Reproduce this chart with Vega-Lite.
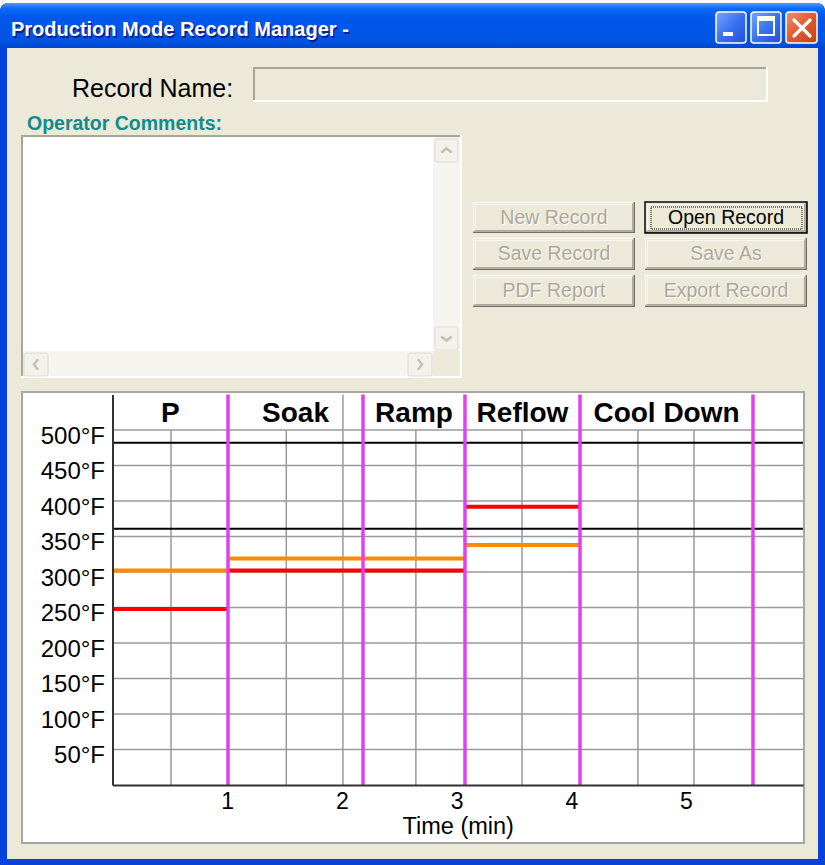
{
"$schema": "https://vega.github.io/schema/vega-lite/v6.json",
"width": 825, "height": 865,
"autosize": {"type": "fit", "contains": "padding"},
"padding": 0,
"background": "#FFFFFF",
"config": {"view": {"stroke": null}, "text": {"font": "Liberation Sans"}},
"datasets": {
  "tbuttons": [
    {"button": "minimize", "x": 716, "x2": 746, "y": 12, "y2": 43},
    {"button": "maximize", "x": 751, "x2": 781, "y": 12, "y2": 43},
    {"button": "close", "x": 786, "x2": 817, "y": 12, "y2": 43}
  ],
  "sunken": [
    {"box": "Record Name", "face": "disabled", "x": 253, "x2": 768, "y": 67, "y2": 102},
    {"box": "Operator Comments", "face": "editable", "x": 21, "x2": 462, "y": 135, "y2": 378}
  ],
  "scrollbtn": [
    {"dir": "up", "x": 435, "x2": 458, "y": 139, "y2": 162},
    {"dir": "down", "x": 435, "x2": 458, "y": 327, "y2": 350},
    {"dir": "left", "x": 24, "x2": 48, "y": 353, "y2": 376},
    {"dir": "right", "x": 408, "x2": 432, "y": 353, "y2": 376}
  ],
  "buttons": [
    {"label": "New Record", "enabled": false, "x": 473, "x2": 635, "y": 202, "y2": 233},
    {"label": "Open Record", "enabled": true, "x": 645, "x2": 807, "y": 202, "y2": 233},
    {"label": "Save Record", "enabled": false, "x": 473, "x2": 635, "y": 238, "y2": 270},
    {"label": "Save As", "enabled": false, "x": 645, "x2": 807, "y": 238, "y2": 270},
    {"label": "PDF Report", "enabled": false, "x": 473, "x2": 635, "y": 275, "y2": 307},
    {"label": "Export Record", "enabled": false, "x": 645, "x2": 807, "y": 275, "y2": 307}
  ],
  "zones": [
    {"zone": "P", "t": 0, "t2": 1.007, "bottom": 0, "top": 550},
    {"zone": "Soak", "t": 1.007, "t2": 2.184, "bottom": 0, "top": 550},
    {"zone": "Ramp", "t": 2.184, "t2": 3.073, "bottom": 0, "top": 550},
    {"zone": "Reflow", "t": 3.073, "t2": 4.076, "bottom": 0, "top": 550},
    {"zone": "Cool Down", "t": 4.076, "t2": 5.584, "bottom": 0, "top": 550}
  ],
  "setpoints": [
    {"zone": "P", "series": "Top heater", "t": 0, "t2": 1.007, "temp": 248},
    {"zone": "P", "series": "Bottom heater", "t": 0, "t2": 1.007, "temp": 302},
    {"zone": "Soak", "series": "Top heater", "t": 1.007, "t2": 2.184, "temp": 302},
    {"zone": "Soak", "series": "Bottom heater", "t": 1.007, "t2": 2.184, "temp": 319},
    {"zone": "Ramp", "series": "Top heater", "t": 2.184, "t2": 3.073, "temp": 302},
    {"zone": "Ramp", "series": "Bottom heater", "t": 2.184, "t2": 3.073, "temp": 319},
    {"zone": "Reflow", "series": "Top heater", "t": 3.073, "t2": 4.076, "temp": 392},
    {"zone": "Reflow", "series": "Bottom heater", "t": 3.073, "t2": 4.076, "temp": 338}
  ]
},
"resolve": {"scale": {"x": "independent", "y": "independent", "color": "independent", "shape": "independent"}},
"layer": [
  {"data": {"values": [{"part": "frame", "x": 0, "x2": 825, "y": 3, "y2": 865}]},
   "mark": {"type": "rect", "fill": "#0841DC", "cornerRadiusTopLeft": 8, "cornerRadiusTopRight": 8},
   "encoding": {"x": {"field": "x", "type": "quantitative", "scale": {"domain": [0, 825], "range": [0, 825], "nice": false, "zero": false}, "axis": null}, "x2": {"field": "x2"},
                "y": {"field": "y", "type": "quantitative", "scale": {"domain": [0, 865], "range": [0, 865], "nice": false, "zero": false}, "axis": null}, "y2": {"field": "y2"}}},
  {"data": {"values": [{"part": "title bar", "x": 0, "x2": 825, "y": 3, "y2": 48}]},
   "mark": {"type": "rect", "cornerRadiusTopLeft": 8, "cornerRadiusTopRight": 8,
            "fill": {"gradient": "linear", "x1": 0, "y1": 0, "x2": 0, "y2": 1, "stops": [{"offset": 0, "color": "#4A9BFF"}, {"offset": 0.12, "color": "#0C6BF6"}, {"offset": 0.3, "color": "#0058EC"}, {"offset": 0.85, "color": "#0054E3"}, {"offset": 1, "color": "#0046CF"}]}},
   "encoding": {"x": {"field": "x", "type": "quantitative", "scale": {"domain": [0, 825], "range": [0, 825], "nice": false, "zero": false}, "axis": null}, "x2": {"field": "x2"},
                "y": {"field": "y", "type": "quantitative", "scale": {"domain": [0, 865], "range": [0, 865], "nice": false, "zero": false}, "axis": null}, "y2": {"field": "y2"}}},
  {"data": {"values": [{"part": "client", "x": 7, "x2": 818, "y": 48, "y2": 859}]},
   "mark": {"type": "rect", "fill": "#ECE9D8"},
   "encoding": {"x": {"field": "x", "type": "quantitative", "scale": {"domain": [0, 825], "range": [0, 825], "nice": false, "zero": false}, "axis": null}, "x2": {"field": "x2"},
                "y": {"field": "y", "type": "quantitative", "scale": {"domain": [0, 865], "range": [0, 865], "nice": false, "zero": false}, "axis": null}, "y2": {"field": "y2"}}},
  {"data": {"name": "tbuttons"}, "transform": [{"filter": "datum.button != 'close'"}],
   "mark": {"type": "rect", "cornerRadius": 3, "stroke": "#FFFFFF", "strokeWidth": 1.5,
            "fill": {"gradient": "linear", "x1": 0, "y1": 0, "x2": 1, "y2": 1, "stops": [{"offset": 0, "color": "#79A6FF"}, {"offset": 0.5, "color": "#3A72F0"}, {"offset": 1, "color": "#1F4FD8"}]}},
   "encoding": {"x": {"field": "x", "type": "quantitative", "scale": {"domain": [0, 825], "range": [0, 825], "nice": false, "zero": false}, "axis": null}, "x2": {"field": "x2"},
                "y": {"field": "y", "type": "quantitative", "scale": {"domain": [0, 865], "range": [0, 865], "nice": false, "zero": false}, "axis": null}, "y2": {"field": "y2"}}},
  {"data": {"name": "tbuttons"}, "transform": [{"filter": "datum.button == 'close'"}],
   "mark": {"type": "rect", "cornerRadius": 3, "stroke": "#FFFFFF", "strokeWidth": 1.5,
            "fill": {"gradient": "linear", "x1": 0, "y1": 0, "x2": 1, "y2": 1, "stops": [{"offset": 0, "color": "#F09070"}, {"offset": 0.5, "color": "#E05A30"}, {"offset": 1, "color": "#C4400F"}]}},
   "encoding": {"x": {"field": "x", "type": "quantitative", "scale": {"domain": [0, 825], "range": [0, 825], "nice": false, "zero": false}, "axis": null}, "x2": {"field": "x2"},
                "y": {"field": "y", "type": "quantitative", "scale": {"domain": [0, 865], "range": [0, 865], "nice": false, "zero": false}, "axis": null}, "y2": {"field": "y2"}}},
  {"data": {"values": [{"glyph": "minimize", "x": 723, "x2": 733, "y": 32, "y2": 36}, {"glyph": "maximize top", "x": 758, "x2": 774, "y": 17, "y2": 21}]},
   "mark": {"type": "rect", "fill": "#FFFFFF"},
   "encoding": {"x": {"field": "x", "type": "quantitative", "scale": {"domain": [0, 825], "range": [0, 825], "nice": false, "zero": false}, "axis": null}, "x2": {"field": "x2"},
                "y": {"field": "y", "type": "quantitative", "scale": {"domain": [0, 865], "range": [0, 865], "nice": false, "zero": false}, "axis": null}, "y2": {"field": "y2"}}},
  {"data": {"values": [{"glyph": "maximize", "x": 758, "x2": 774, "y": 17, "y2": 35}]},
   "mark": {"type": "rect", "fillOpacity": 0, "stroke": "#FFFFFF", "strokeWidth": 2},
   "encoding": {"x": {"field": "x", "type": "quantitative", "scale": {"domain": [0, 825], "range": [0, 825], "nice": false, "zero": false}, "axis": null}, "x2": {"field": "x2"},
                "y": {"field": "y", "type": "quantitative", "scale": {"domain": [0, 865], "range": [0, 865], "nice": false, "zero": false}, "axis": null}, "y2": {"field": "y2"}}},
  {"data": {"values": [{"glyph": "close a", "x": 794, "x2": 810, "y": 20, "y2": 36}, {"glyph": "close b", "x": 794, "x2": 810, "y": 36, "y2": 20}]},
   "mark": {"type": "rule", "color": "#FFFFFF", "strokeWidth": 3.2, "strokeCap": "round"},
   "encoding": {"x": {"field": "x", "type": "quantitative", "scale": {"domain": [0, 825], "range": [0, 825], "nice": false, "zero": false}, "axis": null}, "x2": {"field": "x2"},
                "y": {"field": "y", "type": "quantitative", "scale": {"domain": [0, 865], "range": [0, 865], "nice": false, "zero": false}, "axis": null}, "y2": {"field": "y2"}}},
  {"data": {"values": [{"text": "Production Mode Record Manager -", "x": 11, "y": 30}]},
   "mark": {"type": "text", "align": "left", "baseline": "middle", "fontSize": 20, "fontWeight": "bold", "fill": "#0A1F8F", "dx": 1.5, "dy": 1.5},
   "encoding": {"x": {"field": "x", "type": "quantitative", "scale": {"domain": [0, 825], "range": [0, 825], "nice": false, "zero": false}, "axis": null},
                "y": {"field": "y", "type": "quantitative", "scale": {"domain": [0, 865], "range": [0, 865], "nice": false, "zero": false}, "axis": null}, "text": {"field": "text"}}},
  {"data": {"values": [{"text": "Production Mode Record Manager -", "x": 11, "y": 30}]},
   "mark": {"type": "text", "align": "left", "baseline": "middle", "fontSize": 20, "fontWeight": "bold", "fill": "#FFFFFF"},
   "encoding": {"x": {"field": "x", "type": "quantitative", "scale": {"domain": [0, 825], "range": [0, 825], "nice": false, "zero": false}, "axis": null},
                "y": {"field": "y", "type": "quantitative", "scale": {"domain": [0, 865], "range": [0, 865], "nice": false, "zero": false}, "axis": null}, "text": {"field": "text"}}},
  {"data": {"values": [{"text": "Record Name:", "x": 72, "y": 89}]},
   "mark": {"type": "text", "align": "left", "baseline": "middle", "fontSize": 25, "fill": "#000000"},
   "encoding": {"x": {"field": "x", "type": "quantitative", "scale": {"domain": [0, 825], "range": [0, 825], "nice": false, "zero": false}, "axis": null},
                "y": {"field": "y", "type": "quantitative", "scale": {"domain": [0, 865], "range": [0, 865], "nice": false, "zero": false}, "axis": null}, "text": {"field": "text"}}},
  {"data": {"values": [{"text": "Operator Comments:", "x": 27, "y": 124}]},
   "mark": {"type": "text", "align": "left", "baseline": "middle", "fontSize": 19.5, "fontWeight": "bold", "fill": "#0F8C8C"},
   "encoding": {"x": {"field": "x", "type": "quantitative", "scale": {"domain": [0, 825], "range": [0, 825], "nice": false, "zero": false}, "axis": null},
                "y": {"field": "y", "type": "quantitative", "scale": {"domain": [0, 865], "range": [0, 865], "nice": false, "zero": false}, "axis": null}, "text": {"field": "text"}}},
  {"data": {"name": "sunken"},
   "mark": {"type": "rect", "fill": "#FFFFFF"},
   "encoding": {"x": {"field": "x", "type": "quantitative", "scale": {"domain": [0, 825], "range": [0, 825], "nice": false, "zero": false}, "axis": null}, "x2": {"field": "x2"},
                "y": {"field": "y", "type": "quantitative", "scale": {"domain": [0, 865], "range": [0, 865], "nice": false, "zero": false}, "axis": null}, "y2": {"field": "y2"}}},
  {"data": {"name": "sunken"},
   "mark": {"type": "rect", "fill": "#A9A597", "x2Offset": -2, "y2Offset": -2},
   "encoding": {"x": {"field": "x", "type": "quantitative", "scale": {"domain": [0, 825], "range": [0, 825], "nice": false, "zero": false}, "axis": null}, "x2": {"field": "x2"},
                "y": {"field": "y", "type": "quantitative", "scale": {"domain": [0, 865], "range": [0, 865], "nice": false, "zero": false}, "axis": null}, "y2": {"field": "y2"}}},
  {"data": {"name": "sunken"},
   "mark": {"type": "rect", "xOffset": 2, "yOffset": 2, "x2Offset": -2, "y2Offset": -2},
   "encoding": {"x": {"field": "x", "type": "quantitative", "scale": {"domain": [0, 825], "range": [0, 825], "nice": false, "zero": false}, "axis": null}, "x2": {"field": "x2"},
                "y": {"field": "y", "type": "quantitative", "scale": {"domain": [0, 865], "range": [0, 865], "nice": false, "zero": false}, "axis": null}, "y2": {"field": "y2"},
                "color": {"field": "face", "type": "nominal", "scale": {"domain": ["disabled", "editable"], "range": ["#ECE9D8", "#FFFFFF"]}, "legend": null}}},
  {"data": {"values": [{"track": "vertical", "x": 433, "x2": 460, "y": 137, "y2": 351}, {"track": "horizontal", "x": 23, "x2": 433, "y": 351, "y2": 376}]},
   "mark": {"type": "rect", "fill": "#F5F4EF"},
   "encoding": {"x": {"field": "x", "type": "quantitative", "scale": {"domain": [0, 825], "range": [0, 825], "nice": false, "zero": false}, "axis": null}, "x2": {"field": "x2"},
                "y": {"field": "y", "type": "quantitative", "scale": {"domain": [0, 865], "range": [0, 865], "nice": false, "zero": false}, "axis": null}, "y2": {"field": "y2"}}},
  {"data": {"values": [{"track": "corner", "x": 433, "x2": 460, "y": 351, "y2": 376}]},
   "mark": {"type": "rect", "fill": "#ECE9D8"},
   "encoding": {"x": {"field": "x", "type": "quantitative", "scale": {"domain": [0, 825], "range": [0, 825], "nice": false, "zero": false}, "axis": null}, "x2": {"field": "x2"},
                "y": {"field": "y", "type": "quantitative", "scale": {"domain": [0, 865], "range": [0, 865], "nice": false, "zero": false}, "axis": null}, "y2": {"field": "y2"}}},
  {"data": {"name": "scrollbtn"},
   "mark": {"type": "rect", "fill": "#F2F1EB", "stroke": "#DEDCD2", "strokeWidth": 1, "cornerRadius": 2},
   "encoding": {"x": {"field": "x", "type": "quantitative", "scale": {"domain": [0, 825], "range": [0, 825], "nice": false, "zero": false}, "axis": null}, "x2": {"field": "x2"},
                "y": {"field": "y", "type": "quantitative", "scale": {"domain": [0, 865], "range": [0, 865], "nice": false, "zero": false}, "axis": null}, "y2": {"field": "y2"}}},
  {"data": {"name": "scrollbtn"},
   "transform": [{"calculate": "(datum.x + datum.x2) / 2", "as": "cx"}, {"calculate": "(datum.y + datum.y2) / 2", "as": "cy"}],
   "mark": {"type": "point", "filled": false, "color": "#C4C1B4", "strokeWidth": 2.5, "size": 110, "opacity": 1},
   "encoding": {"x": {"field": "cx", "type": "quantitative", "scale": {"domain": [0, 825], "range": [0, 825], "nice": false, "zero": false}, "axis": null},
                "y": {"field": "cy", "type": "quantitative", "scale": {"domain": [0, 865], "range": [0, 865], "nice": false, "zero": false}, "axis": null},
                "shape": {"field": "dir", "type": "nominal", "scale": {"domain": ["up", "down", "left", "right"], "range": ["M-1,0.4L0,-0.4L1,0.4", "M-1,-0.4L0,0.4L1,-0.4", "M0.4,-1L-0.4,0L0.4,1", "M-0.4,-1L0.4,0L-0.4,1"]}, "legend": null}}},
  {"data": {"name": "buttons"},
   "mark": {"type": "rect", "fill": "#716F64"},
   "encoding": {"x": {"field": "x", "type": "quantitative", "scale": {"domain": [0, 825], "range": [0, 825], "nice": false, "zero": false}, "axis": null}, "x2": {"field": "x2"},
                "y": {"field": "y", "type": "quantitative", "scale": {"domain": [0, 865], "range": [0, 865], "nice": false, "zero": false}, "axis": null}, "y2": {"field": "y2"}}},
  {"data": {"name": "buttons"},
   "mark": {"type": "rect", "fill": "#FFFFFF", "x2Offset": -1.5, "y2Offset": -1.5},
   "encoding": {"x": {"field": "x", "type": "quantitative", "scale": {"domain": [0, 825], "range": [0, 825], "nice": false, "zero": false}, "axis": null}, "x2": {"field": "x2"},
                "y": {"field": "y", "type": "quantitative", "scale": {"domain": [0, 865], "range": [0, 865], "nice": false, "zero": false}, "axis": null}, "y2": {"field": "y2"}}},
  {"data": {"name": "buttons"},
   "mark": {"type": "rect", "fill": "#ACA899", "xOffset": 1.5, "yOffset": 1.5, "x2Offset": -1.5, "y2Offset": -1.5},
   "encoding": {"x": {"field": "x", "type": "quantitative", "scale": {"domain": [0, 825], "range": [0, 825], "nice": false, "zero": false}, "axis": null}, "x2": {"field": "x2"},
                "y": {"field": "y", "type": "quantitative", "scale": {"domain": [0, 865], "range": [0, 865], "nice": false, "zero": false}, "axis": null}, "y2": {"field": "y2"}}},
  {"data": {"name": "buttons"},
   "mark": {"type": "rect", "fill": "#F7F6F0", "xOffset": 1.5, "yOffset": 1.5, "x2Offset": -3, "y2Offset": -3},
   "encoding": {"x": {"field": "x", "type": "quantitative", "scale": {"domain": [0, 825], "range": [0, 825], "nice": false, "zero": false}, "axis": null}, "x2": {"field": "x2"},
                "y": {"field": "y", "type": "quantitative", "scale": {"domain": [0, 865], "range": [0, 865], "nice": false, "zero": false}, "axis": null}, "y2": {"field": "y2"}}},
  {"data": {"name": "buttons"},
   "mark": {"type": "rect", "fill": "#ECE9D8", "xOffset": 3, "yOffset": 3, "x2Offset": -3, "y2Offset": -3},
   "encoding": {"x": {"field": "x", "type": "quantitative", "scale": {"domain": [0, 825], "range": [0, 825], "nice": false, "zero": false}, "axis": null}, "x2": {"field": "x2"},
                "y": {"field": "y", "type": "quantitative", "scale": {"domain": [0, 865], "range": [0, 865], "nice": false, "zero": false}, "axis": null}, "y2": {"field": "y2"}}},
  {"data": {"name": "buttons"}, "transform": [{"filter": "datum.enabled"}],
   "mark": {"type": "rect", "fillOpacity": 0, "stroke": "#000000", "strokeWidth": 1.5},
   "encoding": {"x": {"field": "x", "type": "quantitative", "scale": {"domain": [0, 825], "range": [0, 825], "nice": false, "zero": false}, "axis": null}, "x2": {"field": "x2"},
                "y": {"field": "y", "type": "quantitative", "scale": {"domain": [0, 865], "range": [0, 865], "nice": false, "zero": false}, "axis": null}, "y2": {"field": "y2"}}},
  {"data": {"name": "buttons"}, "transform": [{"filter": "datum.enabled"}],
   "mark": {"type": "rect", "fillOpacity": 0, "stroke": "#000000", "strokeWidth": 1, "strokeDash": [1, 1], "xOffset": 6, "yOffset": 5, "x2Offset": -5, "y2Offset": -4},
   "encoding": {"x": {"field": "x", "type": "quantitative", "scale": {"domain": [0, 825], "range": [0, 825], "nice": false, "zero": false}, "axis": null}, "x2": {"field": "x2"},
                "y": {"field": "y", "type": "quantitative", "scale": {"domain": [0, 865], "range": [0, 865], "nice": false, "zero": false}, "axis": null}, "y2": {"field": "y2"}}},
  {"data": {"name": "buttons"},
   "transform": [{"filter": "!datum.enabled"}, {"calculate": "(datum.x + datum.x2) / 2", "as": "cx"}, {"calculate": "(datum.y + datum.y2) / 2", "as": "cy"}],
   "mark": {"type": "text", "align": "center", "baseline": "middle", "fontSize": 19.5, "fill": "#FFFFFF", "dx": 1, "dy": 1},
   "encoding": {"x": {"field": "cx", "type": "quantitative", "scale": {"domain": [0, 825], "range": [0, 825], "nice": false, "zero": false}, "axis": null},
                "y": {"field": "cy", "type": "quantitative", "scale": {"domain": [0, 865], "range": [0, 865], "nice": false, "zero": false}, "axis": null}, "text": {"field": "label"}}},
  {"data": {"name": "buttons"},
   "transform": [{"filter": "!datum.enabled"}, {"calculate": "(datum.x + datum.x2) / 2", "as": "cx"}, {"calculate": "(datum.y + datum.y2) / 2", "as": "cy"}],
   "mark": {"type": "text", "align": "center", "baseline": "middle", "fontSize": 19.5, "fill": "#ACA899"},
   "encoding": {"x": {"field": "cx", "type": "quantitative", "scale": {"domain": [0, 825], "range": [0, 825], "nice": false, "zero": false}, "axis": null},
                "y": {"field": "cy", "type": "quantitative", "scale": {"domain": [0, 865], "range": [0, 865], "nice": false, "zero": false}, "axis": null}, "text": {"field": "label"}}},
  {"data": {"name": "buttons"},
   "transform": [{"filter": "datum.enabled"}, {"calculate": "(datum.x + datum.x2) / 2", "as": "cx"}, {"calculate": "(datum.y + datum.y2) / 2", "as": "cy"}],
   "mark": {"type": "text", "align": "center", "baseline": "middle", "fontSize": 19.5, "fill": "#000000"},
   "encoding": {"x": {"field": "cx", "type": "quantitative", "scale": {"domain": [0, 825], "range": [0, 825], "nice": false, "zero": false}, "axis": null},
                "y": {"field": "cy", "type": "quantitative", "scale": {"domain": [0, 865], "range": [0, 865], "nice": false, "zero": false}, "axis": null}, "text": {"field": "label"}}},
  {"data": {"values": [{"part": "chart panel", "x": 22, "x2": 804, "y": 392, "y2": 843}]},
   "mark": {"type": "rect", "fill": "#FFFFFF", "stroke": "#A6A6A6", "strokeWidth": 2},
   "encoding": {"x": {"field": "x", "type": "quantitative", "scale": {"domain": [0, 825], "range": [0, 825], "nice": false, "zero": false}, "axis": null}, "x2": {"field": "x2"},
                "y": {"field": "y", "type": "quantitative", "scale": {"domain": [0, 865], "range": [0, 865], "nice": false, "zero": false}, "axis": null}, "y2": {"field": "y2"}}},
  {"data": {"values": [{"temp": 50, "t": 0, "t2": 6.02}, {"temp": 100, "t": 0, "t2": 6.02}, {"temp": 150, "t": 0, "t2": 6.02}, {"temp": 200, "t": 0, "t2": 6.02}, {"temp": 250, "t": 0, "t2": 6.02}, {"temp": 300, "t": 0, "t2": 6.02}, {"temp": 350, "t": 0, "t2": 6.02}, {"temp": 400, "t": 0, "t2": 6.02}, {"temp": 450, "t": 0, "t2": 6.02}, {"temp": 500, "t": 0, "t2": 6.02}]},
   "mark": {"type": "rule", "color": "#9A9A9A", "strokeWidth": 1.5},
   "encoding": {
     "y": {"field": "temp", "type": "quantitative", "scale": {"domain": [0, 550], "range": [785, 394.5], "nice": false, "zero": false},
           "axis": {"orient": "left", "offset": -112.5, "values": [50, 100, 150, 200, 250, 300, 350, 400, 450, 500], "labelExpr": "datum.value + '°F'", "grid": false, "ticks": false, "domain": true, "domainColor": "#333333", "domainWidth": 2, "labelFont": "Liberation Sans", "labelFontSize": 24, "labelColor": "#000000", "labelPadding": 8, "labelOffset": 6, "labelOverlap": false, "labelBound": false, "title": null, "zindex": 1}},
     "x": {"field": "t", "type": "quantitative", "scale": {"domain": [0, 6.02], "range": [112.5, 803], "nice": false, "zero": false}, "axis": null},
     "x2": {"field": "t2"}}},
  {"data": {"values": [{"t": 0.51, "temp": 0, "top": 500}, {"t": 1.515, "temp": 0, "top": 500}, {"t": 2.009, "temp": 0, "top": 550}, {"t": 2.645, "temp": 0, "top": 500}, {"t": 3.57, "temp": 0, "top": 500}, {"t": 4.581, "temp": 0, "top": 500}, {"t": 5.07, "temp": 0, "top": 500}]},
   "mark": {"type": "rule", "color": "#9A9A9A", "strokeWidth": 1.5},
   "encoding": {
     "x": {"field": "t", "type": "quantitative", "scale": {"domain": [0, 6.02], "range": [112.5, 803], "nice": false, "zero": false},
           "axis": {"orient": "bottom", "offset": -80, "values": [1, 2, 3, 4, 5], "format": "d", "grid": false, "ticks": false, "domain": true, "domainColor": "#333333", "domainWidth": 2, "labelFont": "Liberation Sans", "labelFontSize": 23, "labelColor": "#000000", "labelPadding": 5, "labelFlush": false, "labelOverlap": false, "title": "Time (min)", "titleFont": "Liberation Sans", "titleFontSize": 23.5, "titleFontWeight": "normal", "titleColor": "#000000", "titlePadding": 1, "zindex": 1}},
     "y": {"field": "temp", "type": "quantitative", "scale": {"domain": [0, 550], "range": [785, 394.5], "nice": false, "zero": false}, "axis": null},
     "y2": {"field": "top"}}},
  {"data": {"values": [{"limit": "Upper limit", "temp": 482, "t": 0, "t2": 6.02}, {"limit": "Lower limit", "temp": 361, "t": 0, "t2": 6.02}]},
   "mark": {"type": "rule", "color": "#000000", "strokeWidth": 2},
   "encoding": {
     "y": {"field": "temp", "type": "quantitative", "scale": {"domain": [0, 550], "range": [785, 394.5], "nice": false, "zero": false}, "axis": null},
     "x": {"field": "t", "type": "quantitative", "scale": {"domain": [0, 6.02], "range": [112.5, 803], "nice": false, "zero": false}, "axis": null},
     "x2": {"field": "t2"}}},
  {"data": {"name": "setpoints"},
   "mark": {"type": "rule", "strokeWidth": 4},
   "encoding": {
     "x": {"field": "t", "type": "quantitative", "scale": {"domain": [0, 6.02], "range": [112.5, 803], "nice": false, "zero": false}, "axis": null}, "x2": {"field": "t2"},
     "y": {"field": "temp", "type": "quantitative", "scale": {"domain": [0, 550], "range": [785, 394.5], "nice": false, "zero": false}, "axis": null},
     "color": {"field": "series", "type": "nominal", "scale": {"domain": ["Top heater", "Bottom heater"], "range": ["#FF0000", "#FF8C00"]}, "legend": null}}},
  {"data": {"name": "zones"},
   "mark": {"type": "rule", "color": "#E040F0", "strokeWidth": 3.5},
   "encoding": {
     "x": {"field": "t2", "type": "quantitative", "scale": {"domain": [0, 6.02], "range": [112.5, 803], "nice": false, "zero": false}, "axis": null},
     "y": {"field": "bottom", "type": "quantitative", "scale": {"domain": [0, 550], "range": [785, 394.5], "nice": false, "zero": false}, "axis": null},
     "y2": {"field": "top"}}},
  {"data": {"name": "zones"},
   "transform": [{"calculate": "(datum.t + datum.t2) / 2", "as": "mid"}],
   "mark": {"type": "text", "align": "center", "baseline": "top", "dy": 5, "fontSize": 28, "fontWeight": "bold", "font": "Liberation Sans", "fill": "#000000"},
   "encoding": {
     "x": {"field": "mid", "type": "quantitative", "scale": {"domain": [0, 6.02], "range": [112.5, 803], "nice": false, "zero": false}, "axis": null},
     "y": {"field": "top", "type": "quantitative", "scale": {"domain": [0, 550], "range": [785, 394.5], "nice": false, "zero": false}, "axis": null},
     "text": {"field": "zone"}}}
]
}
